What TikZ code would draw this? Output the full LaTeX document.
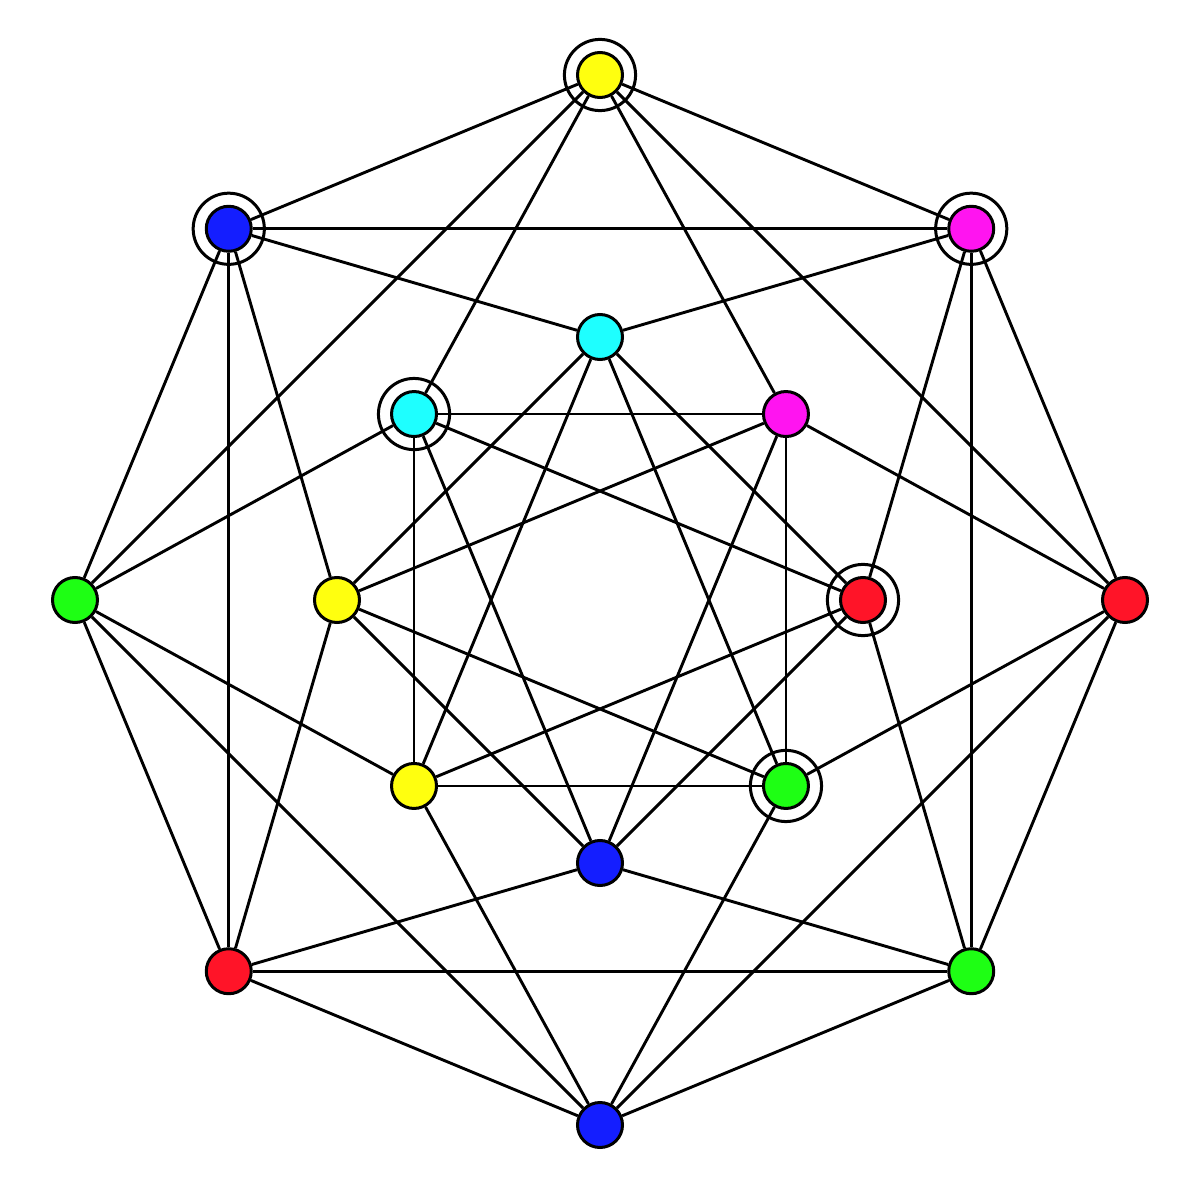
\documentclass[tikz,border=0pt]{standalone}
\definecolor{cY}{RGB}{255,255,15}
\definecolor{cM}{RGB}{255,20,240}
\definecolor{cR}{RGB}{255,20,40}
\definecolor{cG}{RGB}{30,255,20}
\definecolor{cB}{RGB}{20,30,255}
\definecolor{cC}{RGB}{30,255,255}
\begin{document}
\begin{tikzpicture}[
  vtx/.style={circle,draw=black,line width=1.5pt,minimum size=22.5pt,inner sep=0pt},
  edge/.style={draw=black,line width=1.45pt},
  ring/.style={draw=black,line width=1.5pt}
]
\useasboundingbox (-300pt,-300pt) rectangle (300pt,300pt);
% outer vertices
\foreach \k/\c in {0/cY,1/cM,2/cR,3/cG,4/cB,5/cR,6/cG,7/cB}{
  \node[vtx,fill=\c] (O\k) at ({90-45*\k}:262.5pt) {};
}
% inner vertices
\foreach \k/\c in {0/cC,1/cM,2/cR,3/cG,4/cB,5/cY,6/cY,7/cC}{
  \node[vtx,fill=\c] (I\k) at ({90-45*\k}:131.5pt) {};
}
% edges
\foreach \k in {0,...,7}{
  \pgfmathtruncatemacro{\a}{mod(\k+1,8)}
  \pgfmathtruncatemacro{\b}{mod(\k+2,8)}
  \pgfmathtruncatemacro{\c}{mod(\k+3,8)}
  \pgfmathtruncatemacro{\d}{mod(\k+7,8)}
  \draw[edge] (O\k) -- (O\a);
  \draw[edge] (O\k) -- (O\b);
  \draw[edge] (I\k) -- (I\b);
  \draw[edge] (I\k) -- (I\c);
  \draw[edge] (O\k) -- (I\a);
  \draw[edge] (O\k) -- (I\d);
}
% rings
\foreach \n in {O0,O1,O7,I2,I3,I7}{
  \draw[ring] (\n) circle (17.8pt);
}
\end{tikzpicture}
\end{document}
